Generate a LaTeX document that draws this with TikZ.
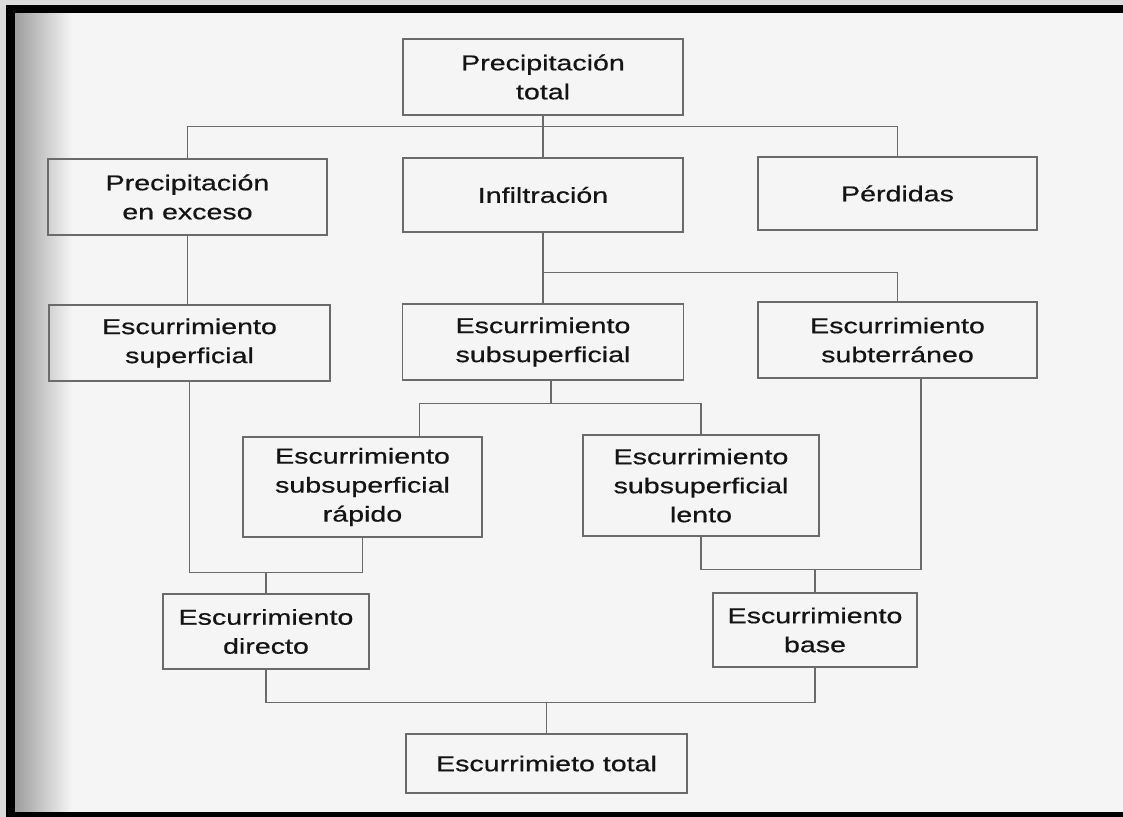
\documentclass[tikz,border=0pt]{standalone}
\usepackage{fontspec}
\newfontfamily\boxfont[FakeStretch=1.33,FakeBold=0.6]{Liberation Sans}
\usetikzlibrary{calc}

\begin{document}
\begin{tikzpicture}[
  x=1pt, y=-1pt,
  box/.style={draw=black!58, line width=1.1pt, align=center, inner sep=0pt,
    text=black!92, font=\boxfont\fontsize{21.5}{29}\selectfont},
  link/.style={draw=black!58, line width=1.1pt},
  scan/.style={fill=black!4},
]

% Page and scan border
\useasboundingbox (0,0) rectangle (1123,816);
\fill[black!14] (-5,-5) rectangle (1130,820);
\fill[scan] (15,13) rectangle (1130,812);
\shade[left color=black!38, right color=black!4] (15,13) rectangle (72,812);
\fill[black] (6,5) rectangle (1130,13);
\fill[black] (6,5) rectangle (15,820);
\fill[black] (6,812) rectangle (1130,820);

% Boxes
\node[box, minimum width=280, minimum height=76] (ptotal) at (543,77) {Precipitación\\total};
\node[box, minimum width=279, minimum height=76] (pexc) at (187.5,197) {Precipitación\\en exceso};
\node[box, minimum width=280, minimum height=74] (infil) at (543,195) {Infiltración};
\node[box, minimum width=279, minimum height=73] (perd) at (897.5,193.5) {Pérdidas};

\node[box, minimum width=281, minimum height=76] (esup) at (189.5,343) {Escurrimiento\\superficial};
\node[box, minimum width=281, minimum height=76] (esubs) at (543,342) {Escurrimiento\\subsuperficial};
\node[box, minimum width=279, minimum height=76] (esubt) at (897.5,340) {Escurrimiento\\subterráneo};

\node[box, minimum width=239, minimum height=100] (rapido) at (362.5,487) {Escurrimiento\\subsuperficial\\rápido};
\node[box, minimum width=236, minimum height=101] (lento) at (701,485.5) {Escurrimiento\\subsuperficial\\lento};

\node[box, minimum width=206, minimum height=75] (directo) at (266,631.5) {Escurrimiento\\directo};
\node[box, minimum width=204, minimum height=74] (base) at (815,630) {Escurrimiento\\base};

\node[box, minimum width=281, minimum height=59] (etotal) at (546.5,763.5) {Escurrimieto total};

% Junctions
\coordinate (j1) at ([yshift=-11pt]ptotal.south);
\coordinate (j2) at ([yshift=-40pt]infil.south);
\coordinate (j3) at ([xshift=8pt,yshift=-23pt]esubs.south);
\coordinate (j4) at ([yshift=-35pt]rapido.south);
\coordinate (j5) at ([yshift=-33pt]lento.south);
\coordinate (j6) at ([yshift=-33pt]directo.south);

% Connectors
\draw[link] (ptotal.south) -- (j1);
\draw[link] (pexc.north) |- (j1) -| (perd.north);
\draw[link] (j1) -- (infil.north);

\draw[link] (pexc.south) -- (pexc.south |- esup.north);
\draw[link] (infil.south) -- (esubs.north);
\draw[link] (j2) -| (esubt.north);

\draw[link] ([xshift=8pt]esubs.south) -- (j3);
\draw[link] ([xshift=57pt]rapido.north) |- (j3) -| (lento.north);

\draw[link] (esup.south) |- (j4) -- (rapido.south);
\draw[link] (directo.north) -- (directo.north |- j4);

\draw[link] (lento.south) -- (j5) -| ([xshift=23.5pt]esubt.south);
\draw[link] (base.north) -- (base.north |- j5);

\draw[link] (directo.south) -- (j6) -| (base.south);
\draw[link] (etotal.north) -- (etotal.north |- j6);

\end{tikzpicture}
\end{document}
